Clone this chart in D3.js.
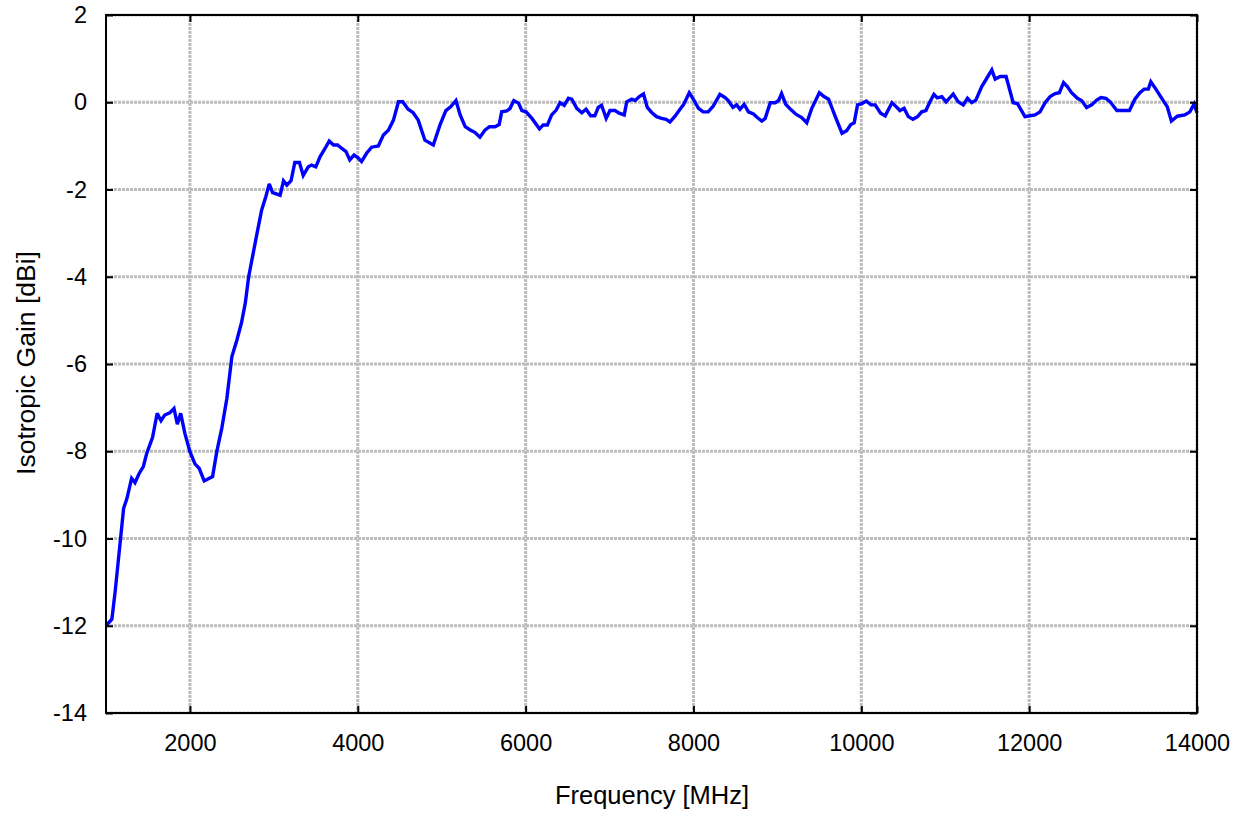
<!DOCTYPE html>
<html>
<head>
<meta charset="utf-8">
<script src="https://cdn.jsdelivr.net/npm/d3@7"></script>
<style>
  html, body { margin: 0; padding: 0; background: #ffffff; }
  svg { display: block; }
  text { font-family: "Liberation Sans", Arial, sans-serif; fill: #000; }
</style>
</head>
<body>
<svg id="chart" width="1244" height="813"></svg>
<script>
const freq = [1000,1070,1110,1210,1250,1305,1345,1395,1445,1485,1555,1610,1655,1700,1760,1810,1850,1890,1940,2000,
2060,2110,2170,2270,2320,2380,2440,2500,2560,2615,2660,2700,2800,2855,2905,2945,2985,3075,3115,3155,
3205,3250,3305,3350,3410,3450,3500,3550,3610,3660,3710,3760,3810,3860,3905,3955,4000,4045,4105,4165,
4245,4305,4365,4425,4485,4535,4600,4660,4720,4800,4900,4980,5050,5110,5170,5220,5280,5345,5395,5455,
5515,5570,5635,5685,5715,5775,5815,5860,5915,5955,6005,6075,6165,6210,6260,6310,6365,6410,6460,6510,
6550,6610,6670,6720,6775,6825,6865,6905,6960,7005,7065,7115,7175,7205,7265,7305,7355,7405,7450,7505,
7560,7620,7675,7720,7780,7840,7880,7950,8005,8060,8115,8175,8235,8315,8375,8415,8470,8515,8555,8605,
8655,8715,8760,8815,8855,8915,8975,9015,9050,9100,9150,9225,9290,9350,9410,9500,9555,9610,9690,9770,
9825,9875,9915,9955,10005,10060,10115,10165,10230,10285,10365,10415,10460,10510,10560,10615,10670,10720,10770,10815,
10865,10905,10960,11010,11095,11155,11215,11265,11315,11365,11435,11495,11555,11595,11655,11725,11810,11860,11950,12010,
12070,12130,12190,12250,12310,12360,12410,12455,12505,12575,12625,12685,12745,12805,12855,12915,12965,13045,13100,13195,
13260,13320,13370,13420,13450,13510,13580,13645,13695,13765,13855,13915,13965,14000];

const gain = [-12.0,-11.85,-11.2,-9.31,-9.08,-8.62,-8.72,-8.51,-8.35,-8.05,-7.68,-7.13,-7.30,-7.17,-7.12,-7.02,-7.38,-7.13,-7.59,-8.01,
-8.29,-8.39,-8.68,-8.58,-8.01,-7.47,-6.79,-5.83,-5.45,-5.05,-4.6,-4.0,-3.0,-2.47,-2.16,-1.87,-2.07,-2.13,-1.80,-1.90,
-1.80,-1.38,-1.38,-1.68,-1.48,-1.44,-1.48,-1.25,-1.06,-0.89,-0.98,-0.98,-1.06,-1.13,-1.32,-1.21,-1.27,-1.36,-1.17,-1.03,
-1.00,-0.75,-0.64,-0.41,0.01,0.01,-0.16,-0.24,-0.41,-0.87,-0.98,-0.52,-0.19,-0.10,0.04,-0.29,-0.56,-0.64,-0.69,-0.80,
-0.64,-0.56,-0.56,-0.51,-0.22,-0.20,-0.14,0.04,-0.02,-0.19,-0.22,-0.37,-0.61,-0.52,-0.52,-0.29,-0.18,-0.01,-0.07,0.09,
0.07,-0.14,-0.24,-0.16,-0.31,-0.31,-0.12,-0.07,-0.37,-0.19,-0.19,-0.25,-0.29,0.01,0.07,0.04,0.13,0.19,-0.12,-0.24,
-0.33,-0.37,-0.39,-0.45,-0.32,-0.16,-0.06,0.22,0.05,-0.14,-0.22,-0.22,-0.09,0.18,0.11,0.04,-0.12,-0.06,-0.16,-0.05,
-0.22,-0.27,-0.35,-0.43,-0.37,-0.01,-0.01,0.04,0.20,-0.05,-0.15,-0.28,-0.35,-0.47,-0.14,0.22,0.13,0.07,-0.33,-0.71,
-0.65,-0.51,-0.47,-0.06,-0.03,0.03,-0.06,-0.06,-0.25,-0.31,-0.01,-0.10,-0.19,-0.14,-0.33,-0.39,-0.33,-0.22,-0.19,0.0,
0.18,0.10,0.13,0.01,0.19,0.01,-0.06,0.09,-0.01,0.05,0.36,0.55,0.74,0.53,0.59,0.59,-0.01,-0.03,-0.33,-0.31,
-0.29,-0.22,-0.01,0.13,0.20,0.22,0.45,0.36,0.22,0.09,0.04,-0.12,-0.06,0.05,0.11,0.09,0.01,-0.19,-0.19,-0.19,
0.07,0.22,0.30,0.30,0.47,0.30,0.09,-0.10,-0.43,-0.32,-0.29,-0.22,-0.04,-0.24];

const xTicks = [2000,4000,6000,8000,10000,12000,14000];
const yTicks = [2,0,-2,-4,-6,-8,-10,-12,-14];

const svg = d3.select("#chart");
const L = 106, R = 1197, T = 15, B = 713;

const x = d3.scaleLinear().domain([1000, 14000]).range([L, R]);
const y = d3.scaleLinear().domain([-14, 2]).range([B, T]);

// grid
const grid = svg.append("g");
grid.selectAll(".gx").data(xTicks).enter().append("line")
  .attr("x1", d => x(d)).attr("x2", d => x(d)).attr("y1", T).attr("y2", B)
  .attr("stroke", "#bdbdbd").attr("stroke-width", 3).attr("stroke-dasharray", "3,1");
grid.selectAll(".gy").data(yTicks).enter().append("line")
  .attr("x1", L).attr("x2", R).attr("y1", d => y(d)).attr("y2", d => y(d))
  .attr("stroke", "#bdbdbd").attr("stroke-width", 3).attr("stroke-dasharray", "3,1");

// data line
const line = d3.line().x((d, i) => x(freq[i])).y(d => y(d));
svg.append("path").datum(gain)
  .attr("d", line)
  .attr("fill", "none").attr("stroke", "#0000ff").attr("stroke-width", 3.4)
  .attr("stroke-linejoin", "miter").attr("stroke-miterlimit", 3);

// axes (ticks inward)
const tickLen = 7;
const fmt = d => String(d);
const bottomAxis = d3.axisBottom(x).tickValues(xTicks).tickSize(-tickLen).tickPadding(tickLen + 14).tickFormat(fmt);
const leftAxis = d3.axisLeft(y).tickValues(yTicks).tickSize(-tickLen).tickPadding(tickLen + 12).tickFormat(fmt);
const topAxis = d3.axisTop(x).tickValues(xTicks).tickSize(-tickLen).tickFormat("");
const rightAxis = d3.axisRight(y).tickValues(yTicks).tickSize(-tickLen).tickFormat("");

function style(g) {
  g.selectAll(".domain").remove();
  g.selectAll(".tick line").attr("stroke", "#000").attr("stroke-width", 2);
  g.selectAll(".tick text").style("font-size", "23.5px").attr("fill", "#000")
    .style("font-family", '"Liberation Sans", Arial, sans-serif');
}
svg.append("g").attr("transform", `translate(0,${B})`).call(bottomAxis).call(style);
svg.append("g").attr("transform", `translate(${L},0)`).call(leftAxis).call(style);
svg.append("g").attr("transform", `translate(0,${T})`).call(topAxis).call(style);
svg.append("g").attr("transform", `translate(${R},0)`).call(rightAxis).call(style);

// frame
svg.append("rect").attr("x", L).attr("y", T).attr("width", R - L).attr("height", B - T)
  .attr("fill", "none").attr("stroke", "#000").attr("stroke-width", 2);

// titles
svg.append("text").attr("x", 652).attr("y", 804).attr("text-anchor", "middle")
  .style("font-size", "25.5px").text("Frequency [MHz]");
svg.append("text").attr("transform", "translate(35,363) rotate(-90)").attr("text-anchor", "middle")
  .style("font-size", "26.5px").text("Isotropic Gain [dBi]");
</script>
</body>
</html>
